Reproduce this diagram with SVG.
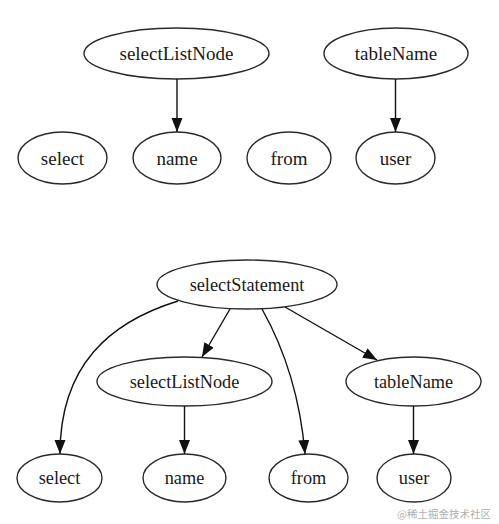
<svg xmlns="http://www.w3.org/2000/svg" width="499" height="524" viewBox="0 0 499 524">
<style>
.n ellipse{fill:none;stroke:#2a2a2a;stroke-width:1.4}
.n text{font-family:"Liberation Serif","Times New Roman",serif;fill:#1a1a1a;text-anchor:middle}
.t text{font-size:19px}
.b text{font-size:18.3px}
#edges path{fill:none;stroke:#111;stroke-width:1.4;marker-end:url(#ah)}
.wm{font-family:"Noto Sans CJK SC",sans-serif;font-size:10.5px;fill:#b0b0b0;text-anchor:end}
</style>
<defs>
<marker id="ah" markerUnits="userSpaceOnUse" markerWidth="15" markerHeight="12" refX="14" refY="5.5" orient="auto">
<path d="M0,0 L14,5.5 L0,11 Z" fill="#111"/>
</marker>
</defs>
<rect width="499" height="524" fill="#fff"/>
<g class="t">
<g id="t_selectListNode" class="n"><ellipse cx="176.5" cy="53.5" rx="92.5" ry="25.5"/><text x="176.5" y="60">selectListNode</text></g>
<g id="t_tableName" class="n"><ellipse cx="396" cy="53.5" rx="72" ry="25.5"/><text x="396" y="60">tableName</text></g>
<g id="t_select" class="n"><ellipse cx="62.5" cy="158" rx="44.5" ry="26"/><text x="62.5" y="164.5">select</text></g>
<g id="t_name" class="n"><ellipse cx="177" cy="158" rx="44" ry="26"/><text x="177" y="164.5">name</text></g>
<g id="t_from" class="n"><ellipse cx="289" cy="158" rx="42" ry="26"/><text x="289" y="164.5">from</text></g>
<g id="t_user" class="n"><ellipse cx="395.5" cy="158" rx="39.5" ry="26"/><text x="395.5" y="164.5">user</text></g>
</g>
<g class="b">
<g id="b_selectStatement" class="n"><ellipse cx="247" cy="284.5" rx="90" ry="24.5"/><text x="247" y="290.5">selectStatement</text></g>
<g id="b_selectListNode" class="n"><ellipse cx="184.5" cy="381.5" rx="87.5" ry="24.5"/><text x="184.5" y="387.5">selectListNode</text></g>
<g id="b_tableName" class="n"><ellipse cx="413.5" cy="381.5" rx="67.5" ry="24.5"/><text x="413.5" y="387.5">tableName</text></g>
<g id="b_select" class="n"><ellipse cx="59.5" cy="478" rx="42.5" ry="24"/><text x="59.5" y="484">select</text></g>
<g id="b_name" class="n"><ellipse cx="184.5" cy="478" rx="41.5" ry="24"/><text x="184.5" y="484">name</text></g>
<g id="b_from" class="n"><ellipse cx="308.5" cy="478" rx="39.5" ry="24"/><text x="308.5" y="484">from</text></g>
<g id="b_user" class="n"><ellipse cx="414" cy="478" rx="37" ry="24"/><text x="414" y="484">user</text></g>
</g>
<g id="edges">
<path d="M177,79 L177,132"/>
<path d="M395.5,79 L395.5,132"/>
<path d="M178,301 C110,322 60,365 60,454"/>
<path d="M230,309 L202,357"/>
<path d="M262,309 C285,350 300,395 305,454"/>
<path d="M285,307 L377,360"/>
<path d="M184.5,406 L184.5,454"/>
<path d="M413.5,406 L413.5,454"/>
</g>
<text class="wm" x="491" y="518">@稀土掘金技术社区</text>
</svg>
